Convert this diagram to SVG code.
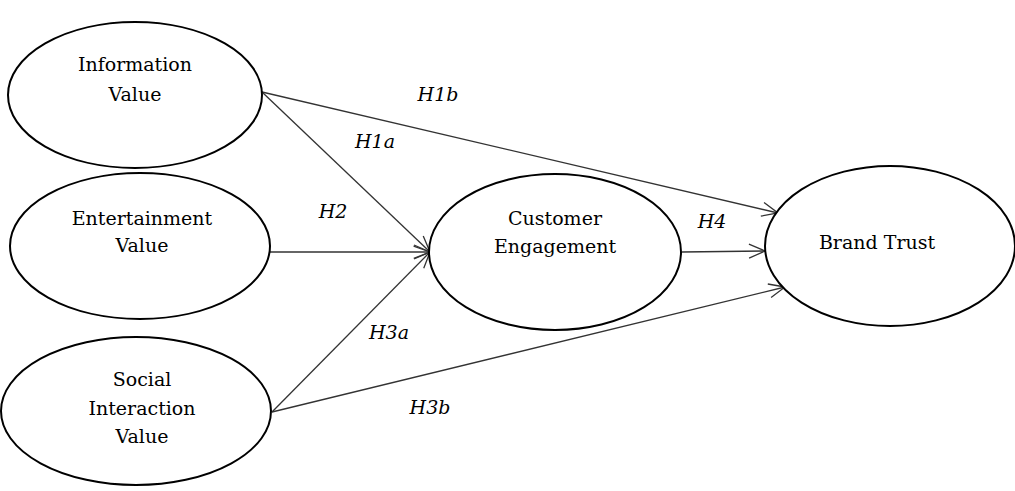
<svg xmlns="http://www.w3.org/2000/svg" width="1015" height="491" viewBox="0 0 1015 491">
<style>
.n{fill:#fff;stroke:#000;stroke-width:2}
.t{font-family:"DejaVu Serif","Liberation Serif",serif;font-size:19px;fill:#000;text-anchor:middle}
.l{font-family:"DejaVu Serif","Liberation Serif",serif;font-size:19px;font-style:italic;fill:#000;text-anchor:middle}
.c{stroke:#333;stroke-width:1.3;fill:none;marker-end:url(#a)}
</style>
<defs>
<marker id="a" viewBox="0 0 20 20" refX="19" refY="10" markerWidth="20" markerHeight="20" markerUnits="userSpaceOnUse" orient="auto">
<path d="M3,3 L19,10 L3,17" fill="none" stroke="#333" stroke-width="1.3"/>
</marker>
</defs>
<rect width="1015" height="491" fill="#fff"/>
<g id="connectors">
<line class="c" x1="262" y1="92" x2="430" y2="252"/>
<line class="c" x1="262" y1="92" x2="778" y2="213"/>
<line class="c" x1="270" y1="252" x2="430" y2="252"/>
<line class="c" x1="272" y1="412" x2="430" y2="252"/>
<line class="c" x1="272" y1="412" x2="785" y2="287"/>
<line class="c" x1="682" y1="252" x2="765" y2="251"/>
<text class="l" x="438" y="101">H1b</text>
<text class="l" x="375" y="148">H1a</text>
<text class="l" x="333" y="218">H2</text>
<text class="l" x="712" y="228">H4</text>
<text class="l" x="389" y="339">H3a</text>
<text class="l" x="430" y="414">H3b</text>
</g>
<g id="info">
<ellipse class="n" cx="135" cy="95" rx="127" ry="73"/>
<text class="t" x="135" y="71">Information</text>
<text class="t" x="135" y="101">Value</text>
</g>
<g id="entertainment">
<ellipse class="n" cx="140" cy="246" rx="130" ry="73"/>
<text class="t" x="142" y="225">Entertainment</text>
<text class="t" x="142" y="252">Value</text>
</g>
<g id="social">
<ellipse class="n" cx="136" cy="411" rx="135" ry="74"/>
<text class="t" x="142" y="386">Social</text>
<text class="t" x="142" y="415">Interaction</text>
<text class="t" x="142" y="443">Value</text>
</g>
<g id="engagement">
<ellipse class="n" cx="555" cy="252" rx="126" ry="78"/>
<text class="t" x="555" y="225">Customer</text>
<text class="t" x="555" y="253">Engagement</text>
</g>
<g id="trust">
<ellipse class="n" cx="890" cy="246" rx="125" ry="80"/>
<text class="t" x="877" y="249">Brand Trust</text>
</g>
</svg>
